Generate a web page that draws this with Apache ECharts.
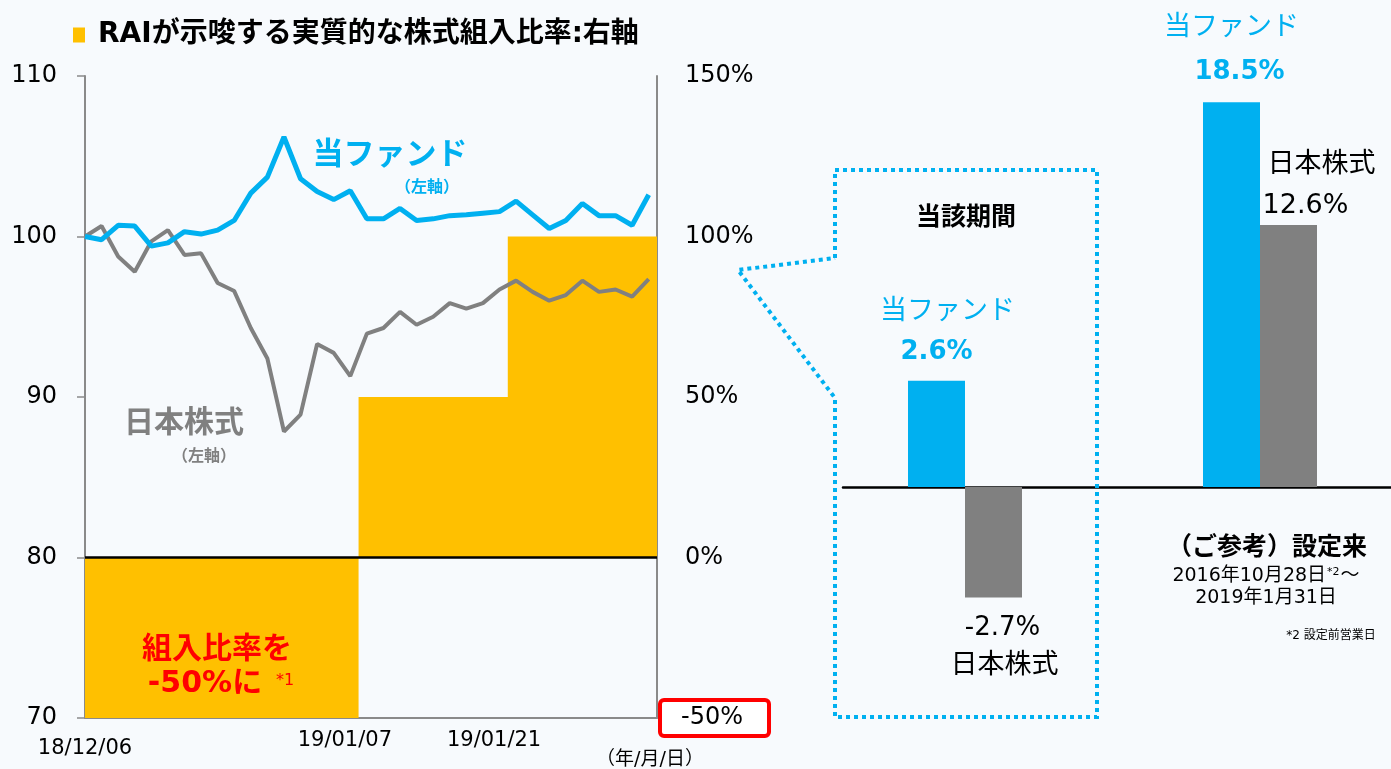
<!DOCTYPE html>
<html>
<head>
<meta charset="utf-8">
<script src="https://cdn.jsdelivr.net/npm/echarts@6.0.0/dist/echarts.min.js"></script>
<style>
  html, body { margin: 0; padding: 0; background: #f7fafd; }
  #main { width: 1391px; height: 769px; }
</style>
</head>
<body>
<div id="main"></div>
<script>
var chartDom = document.getElementById('main');
var myChart = echarts.init(chartDom);

// 営業日
var dates = ['18/12/06','18/12/07','18/12/10','18/12/11','18/12/12','18/12/13','18/12/14',
  '18/12/17','18/12/18','18/12/19','18/12/20','18/12/21','18/12/25','18/12/26','18/12/27',
  '18/12/28','19/01/04','19/01/07','19/01/08','19/01/09','19/01/10','19/01/11','19/01/15',
  '19/01/16','19/01/17','19/01/18','19/01/21','19/01/22','19/01/23','19/01/24','19/01/25',
  '19/01/28','19/01/29','19/01/30','19/01/31'];
// 当ファンド (左軸)
var fundValues = [100.0, 99.8, 100.7, 100.65, 99.4, 99.6, 100.3, 100.15, 100.4, 101.0, 102.7,
  103.7, 106.2, 103.6, 102.8, 102.3, 102.85, 101.1, 101.1, 101.75, 101.0, 101.1, 101.3,
  101.35, 101.45, 101.55, 102.2, 101.35, 100.5, 101.0, 102.05, 101.3, 101.3, 100.7, 102.6];
// 日本株式 (左軸)
var equityValues = [100.0, 100.65, 98.75, 97.8, 99.7, 100.4, 98.85, 98.95, 97.1, 96.6, 94.3,
  92.4, 87.85, 88.9, 93.3, 92.75, 91.3, 93.95, 94.3, 95.3, 94.5, 95.0, 95.85, 95.5, 95.85,
  96.7, 97.25, 96.55, 96.0, 96.35, 97.25, 96.55, 96.7, 96.25, 97.35];
// RAIが示唆する実質的な株式組入比率 (右軸)
var allocStartDates = ['18/12/06', '19/01/07', '19/01/21'];
var allocValues = [-50, 50, 100];
// x軸ラベル
var xTickLabels = ['18/12/06', '19/01/07', '19/01/21'];

// 騰落率
var periodFund = 2.6, periodEquity = -2.7;
var sinceFund = 18.5, sinceEquity = 12.6;

var allocName = 'RAIが示唆する実質的な株式組入比率:右軸';
var numFont = '"DejaVu Sans", "Noto Sans CJK JP", sans-serif';
var jpFont = '"Noto Sans CJK JP", sans-serif';

// step area built from allocation changes
var allocData = [];
for (var k = 0; k < allocStartDates.length; k++) {
  var s = dates.indexOf(allocStartDates[k]);
  var start = s === 0 ? 0 : s - 0.5;
  var end = k < allocStartDates.length - 1 ? dates.indexOf(allocStartDates[k + 1]) - 0.5 : dates.length - 0.5;
  allocData.push([start, allocValues[k]]);
  allocData.push([end, allocValues[k]]);
}
var fundData = fundValues.map(function (v, i) { return [i, v]; });
var equityData = equityValues.map(function (v, i) { return [i, v]; });
var tickPos = xTickLabels.map(function (d) { return dates.indexOf(d); });

var option = {
  backgroundColor: '#f7fafd',
  animation: false,
  legend: {
    data: [allocName],
    left: 68,
    top: 16,
    icon: 'rect',
    itemWidth: 12,
    itemHeight: 15,
    textStyle: {
      fontSize: 28,
      fontWeight: 'bold',
      color: '#000',
      fontFamily: numFont,
      padding: [0, 0, 0, 8]
    }
  },
  grid: [
    { left: 85, right: 734, top: 76, bottom: 51, outerBoundsMode: 'none' },
    { left: 843, width: 244, top: 323.4, bottom: 118.4, outerBoundsMode: 'none' },
    { left: 843, width: 834, top: 71, bottom: 74, outerBoundsMode: 'none' }
  ],
  xAxis: [
    {
      type: 'value', gridIndex: 0, min: 0, max: dates.length - 0.5,
      axisLine: { onZero: false, lineStyle: { color: '#8a8a8a', width: 2 } },
      axisTick: { show: false },
      splitLine: { show: false },
      axisLabel: {
        customValues: tickPos,
        margin: 12,
        color: '#000',
        fontSize: 21,
        fontFamily: numFont,
        formatter: function (v) {
          return v === 0 ? '{f|' + dates[v] + '}' : '{s|' + dates[v] + '}';
        },
        rich: {
          f: { fontSize: 21, fontFamily: numFont, color: '#000', padding: [8, 0, 0, 0] },
          s: { fontSize: 21, fontFamily: numFont, color: '#000', padding: [0, 44, 0, 0] }
        }
      }
    },
    {
      type: 'category', gridIndex: 1, data: ['当該期間'],
      axisLine: { show: false }, axisTick: { show: false }, axisLabel: { show: false }
    },
    {
      type: 'category', gridIndex: 2, data: ['設定来'],
      axisLine: { lineStyle: { color: '#000', width: 2.5 } },
      axisTick: { show: false }, axisLabel: { show: false }
    }
  ],
  yAxis: [
    {
      type: 'value', gridIndex: 0, min: 70, max: 110, interval: 10, position: 'left',
      axisLine: { show: true, lineStyle: { color: '#8a8a8a', width: 2 } },
      axisTick: { show: true, length: 8, lineStyle: { color: '#8a8a8a', width: 1.5 } },
      splitLine: { show: false },
      axisLabel: { margin: 28, color: '#000', fontSize: 24, fontFamily: numFont }
    },
    {
      type: 'value', gridIndex: 0, min: -50, max: 150, interval: 50, position: 'right',
      axisLine: { show: true, lineStyle: { color: '#8a8a8a', width: 2 } },
      axisTick: { show: false },
      splitLine: { show: false },
      axisLabel: {
        margin: 5,
        formatter: function (v) {
          return v === -50 ? '{box|' + v + '%}' : '{n|' + v + '%}';
        },
        rich: {
          n: { fontSize: 24, fontFamily: numFont, color: '#000', padding: [0, 0, 0, 23] },
          box: {
            fontSize: 24, fontFamily: numFont, color: '#000',
            backgroundColor: '#fff', borderColor: '#ff0000', borderWidth: 4, borderRadius: 2,
            padding: [4, 24, 4, 19]
          }
        }
      }
    },
    { type: 'value', gridIndex: 1, min: -4, max: 4, show: false },
    { type: 'value', gridIndex: 2, min: -10, max: 20, show: false }
  ],
  series: [
    {
      name: allocName,
      type: 'line',
      xAxisIndex: 0, yAxisIndex: 1,
      data: allocData,
      color: '#FFC000',
      symbol: 'none',
      lineStyle: { opacity: 0 },
      areaStyle: { color: '#FFC000', opacity: 1, origin: 'auto' },
      z: 1,
      markLine: {
        silent: true,
        symbol: 'none',
        label: { show: false },
        lineStyle: { color: '#000', width: 2.5, type: 'solid' },
        data: [{ yAxis: 0 }]
      }
    },
    {
      name: '日本株式',
      type: 'line',
      xAxisIndex: 0, yAxisIndex: 0,
      data: equityData,
      symbol: 'none',
      color: '#808080',
      lineStyle: { color: '#808080', width: 4 },
      z: 3
    },
    {
      name: '当ファンド',
      type: 'line',
      xAxisIndex: 0, yAxisIndex: 0,
      data: fundData,
      symbol: 'none',
      color: '#00B0F0',
      lineStyle: { color: '#00B0F0', width: 5 },
      z: 4
    },
    {
      name: '当ファンド(当該期間)',
      type: 'bar', xAxisIndex: 1, yAxisIndex: 2,
      data: [periodFund], barWidth: 57, barGap: '0%',
      itemStyle: { color: '#00B0F0' },
      label: {
        show: true, position: 'top', distance: 12,
        formatter: function (p) { return '{n|当ファンド}\n{v|' + p.value + '%}'; },
        rich: {
          n: { fontSize: 27, fontFamily: jpFont, color: '#00B0F0', lineHeight: 56, padding: [0, 0, 0, 22] },
          v: { fontSize: 26, fontWeight: 'bold', fontFamily: numFont, color: '#00B0F0', lineHeight: 32 }
        }
      }
    },
    {
      name: '日本株式(当該期間)',
      type: 'bar', xAxisIndex: 1, yAxisIndex: 2,
      data: [periodEquity], barWidth: 57, barGap: '0%',
      itemStyle: { color: '#808080' },
      label: {
        show: true, position: 'bottom', distance: 14,
        formatter: function (p) { return '{v|' + p.value + '%}\n{n|日本株式}'; },
        rich: {
          v: { fontSize: 26, fontFamily: numFont, color: '#000', lineHeight: 34, padding: [0, 0, 0, 18] },
          n: { fontSize: 27, fontFamily: jpFont, color: '#000', lineHeight: 34, padding: [0, 0, 0, 22] }
        }
      }
    },
    {
      name: '当ファンド(設定来)',
      type: 'bar', xAxisIndex: 2, yAxisIndex: 3,
      data: [sinceFund], barWidth: 57, barGap: '0%',
      itemStyle: { color: '#00B0F0' },
      label: {
        show: true, position: 'top', distance: 14,
        formatter: function (p) { return '{n|当ファンド}\n{v|' + p.value + '%}'; },
        rich: {
          n: { fontSize: 27, fontFamily: jpFont, color: '#00B0F0', lineHeight: 62 },
          v: { fontSize: 26, fontWeight: 'bold', fontFamily: numFont, color: '#00B0F0', lineHeight: 32, padding: [0, 0, 0, 16] }
        }
      }
    },
    {
      name: '日本株式(設定来)',
      type: 'bar', xAxisIndex: 2, yAxisIndex: 3,
      data: [sinceEquity], barWidth: 57, barGap: '0%',
      itemStyle: { color: '#808080' },
      label: {
        show: true, position: 'top', distance: 3, offset: [17, 0],
        formatter: function (p) { return '{n|日本株式}\n{v|' + p.value + '%}'; },
        rich: {
          n: { fontSize: 27, fontFamily: jpFont, color: '#000', lineHeight: 56, padding: [0, 0, 0, 32] },
          v: { fontSize: 27, fontFamily: numFont, color: '#000', lineHeight: 32 }
        }
      }
    }
  ],
  graphic: [
    {
      type: 'polyline', silent: true, z: 100,
      shape: { points: [[835, 258], [835, 170], [1097, 170], [1097, 717], [835, 717], [835, 398], [738, 270], [835, 258]] },
      style: { stroke: '#00B0F0', lineWidth: 4, lineDash: [4, 4], fill: null }
    },
    { type: 'text', z: 100, x: 390, y: 152, style: { text: '当ファンド', fill: '#00B0F0', font: 'bold 31px ' + jpFont, align: 'center', verticalAlign: 'middle' } },
    { type: 'text', z: 100, x: 427, y: 186, style: { text: '（左軸）', fill: '#00B0F0', font: 'bold 16px ' + jpFont, align: 'center', verticalAlign: 'middle' } },
    { type: 'text', z: 100, x: 184, y: 421, style: { text: '日本株式', fill: '#808080', font: 'bold 30px ' + jpFont, align: 'center', verticalAlign: 'middle' } },
    { type: 'text', z: 100, x: 204, y: 455, style: { text: '（左軸）', fill: '#808080', font: 'bold 16px ' + jpFont, align: 'center', verticalAlign: 'middle' } },
    { type: 'text', z: 100, x: 217, y: 647, style: { text: '組入比率を', fill: '#ff0000', font: 'bold 30px ' + jpFont, align: 'center', verticalAlign: 'middle' } },
    { type: 'text', z: 100, x: 205, y: 684, style: { text: '-50%に', fill: '#ff0000', font: 'bold 30px ' + numFont, align: 'center', verticalAlign: 'middle' } },
    { type: 'text', z: 100, x: 285, y: 681, style: { text: '*1', fill: '#ff0000', font: '16px ' + numFont, align: 'center', verticalAlign: 'middle' } },
    { type: 'text', z: 100, x: 650, y: 760, style: { text: '（年/月/日）', fill: '#000', font: '19px ' + numFont, align: 'center', verticalAlign: 'middle' } },
    { type: 'text', z: 100, x: 966, y: 215, style: { text: '当該期間', fill: '#000', font: 'bold 25px ' + jpFont, align: 'center', verticalAlign: 'middle' } },
    { type: 'text', z: 100, x: 1267, y: 545, style: { text: '（ご参考）設定来', fill: '#000', font: 'bold 25px ' + jpFont, align: 'center', verticalAlign: 'middle' } },
    {
      type: 'text', z: 100, x: 1266, y: 576,
      style: {
        text: '{a|2016年10月28日}{s|*2}{a|～}',
        align: 'center', verticalAlign: 'middle',
        rich: {
          a: { fontSize: 19, fontFamily: numFont, fill: '#000', color: '#000' },
          s: { fontSize: 11, fontFamily: numFont, fill: '#000', color: '#000', verticalAlign: 'top', padding: [0, 1, 8, 1] }
        }
      }
    },
    { type: 'text', z: 100, x: 1266, y: 598, style: { text: '2019年1月31日', fill: '#000', font: '19px ' + numFont, align: 'center', verticalAlign: 'middle' } },
    { type: 'text', z: 100, x: 1331, y: 636, style: { text: '*2 設定前営業日', fill: '#000', font: '12px ' + numFont, align: 'center', verticalAlign: 'middle' } }
  ]
};

myChart.setOption(option);
window.addEventListener('resize', function () { myChart.resize(); });
</script>
</body>
</html>
